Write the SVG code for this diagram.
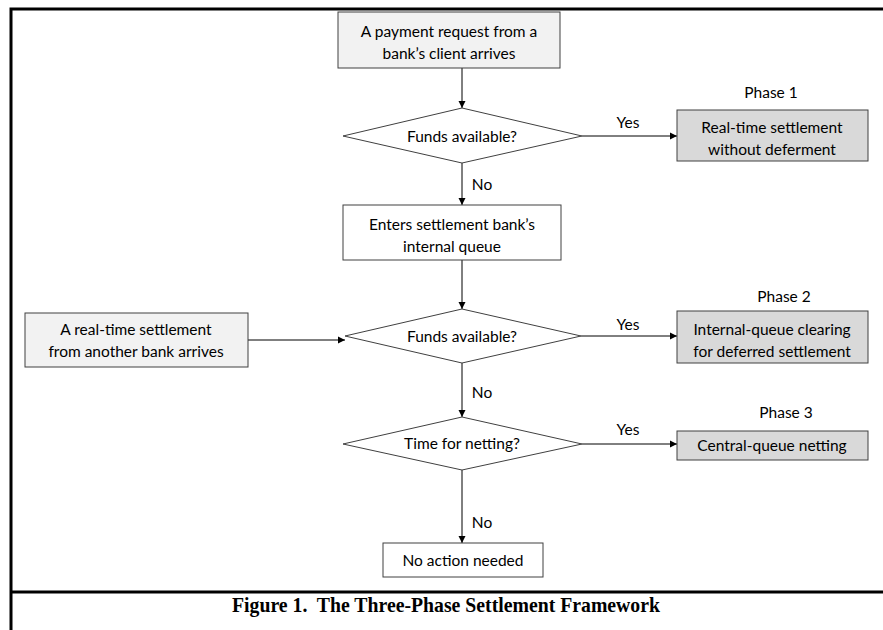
<svg xmlns="http://www.w3.org/2000/svg" width="883" height="630" viewBox="0 0 883 630">
<defs>
<marker id="arr" markerWidth="8" markerHeight="8" refX="7" refY="4" orient="auto" markerUnits="userSpaceOnUse">
<path d="M0,0.5 L7,4 L0,7.5 Z" fill="#000"/>
</marker>
</defs>
<style>
.t{font-family:Lato,"Open Sans","Liberation Sans",sans-serif;font-size:15.5px;fill:#000;text-anchor:middle;dominant-baseline:central}
.bx{stroke:#404040;stroke-width:1}
.lt{fill:#f2f2f2}
.dk{fill:#d9d9d9}
.wh{fill:#fff}
.c{stroke:#000;stroke-width:1;fill:none;marker-end:url(#arr)}
.cap{font-family:"Liberation Serif","Times New Roman",serif;font-weight:bold;font-size:22px;text-anchor:middle;fill:#000;white-space:pre}
</style>
<rect width="883" height="630" fill="#fff"/>
<g id="frame" stroke="#000" stroke-width="3" fill="none">
<path d="M11,630 L11,9 L883,9"/>
<path d="M11,592 L883,592"/>
</g>
<g id="connectors">
<line class="c" x1="462" y1="68" x2="462" y2="108"/>
<line class="c" x1="582" y1="136" x2="677" y2="136"/>
<line class="c" x1="462" y1="163" x2="462" y2="205"/>
<line class="c" x1="462" y1="260" x2="462" y2="309"/>
<line class="c" x1="248" y1="340" x2="345" y2="340"/>
<line class="c" x1="581" y1="336" x2="677" y2="336"/>
<line class="c" x1="462" y1="363" x2="462" y2="417"/>
<line class="c" x1="582" y1="444" x2="677" y2="444"/>
<line class="c" x1="462" y1="470" x2="462" y2="543"/>
<text class="t" x="628" y="122">Yes</text>
<text class="t" x="482" y="184">No</text>
<text class="t" x="628" y="324">Yes</text>
<text class="t" x="482" y="392">No</text>
<text class="t" x="628" y="429">Yes</text>
<text class="t" x="482" y="522">No</text>
</g>
<g id="start">
<rect class="bx lt" x="338" y="12" width="222" height="56"/>
<text class="t" x="449" y="31">A payment request from a</text>
<text class="t" x="449" y="53">bank’s client arrives</text>
</g>
<g id="decision1">
<polygon class="bx wh" points="343,136 462,108 582,136 462,163"/>
<text class="t" x="462" y="136">Funds available?</text>
</g>
<g id="phase1">
<text class="t" x="771" y="92">Phase 1</text>
<rect class="bx dk" x="677" y="110" width="191" height="51"/>
<text class="t" x="772" y="127">Real-time settlement</text>
<text class="t" x="772" y="149">without deferment</text>
</g>
<g id="queue">
<rect class="bx wh" x="343" y="205" width="218" height="55"/>
<text class="t" x="452" y="224">Enters settlement bank’s</text>
<text class="t" x="452" y="246">internal queue</text>
</g>
<g id="incoming">
<rect class="bx lt" x="25" y="313" width="223" height="54"/>
<text class="t" x="136" y="329">A real-time settlement</text>
<text class="t" x="136" y="351">from another bank arrives</text>
</g>
<g id="decision2">
<polygon class="bx wh" points="345,336 462,309 581,336 462,363"/>
<text class="t" x="462" y="336">Funds available?</text>
</g>
<g id="phase2">
<text class="t" x="784" y="296">Phase 2</text>
<rect class="bx dk" x="677" y="311" width="191" height="52"/>
<text class="t" x="772" y="329">Internal-queue clearing</text>
<text class="t" x="772" y="351">for deferred settlement</text>
</g>
<g id="decision3">
<polygon class="bx wh" points="343,444 462,417 582,444 462,470"/>
<text class="t" x="462" y="443">Time for netting?</text>
</g>
<g id="phase3">
<text class="t" x="786" y="412">Phase 3</text>
<rect class="bx dk" x="677" y="431" width="191" height="29"/>
<text class="t" x="772" y="445">Central-queue netting</text>
</g>
<g id="noaction">
<rect class="bx wh" x="383" y="543" width="160" height="34"/>
<text class="t" x="463" y="560">No action needed</text>
</g>
<text class="cap" x="446" y="612" xml:space="preserve" textLength="428" lengthAdjust="spacingAndGlyphs">Figure 1.  The Three-Phase Settlement Framework</text>
</svg>
